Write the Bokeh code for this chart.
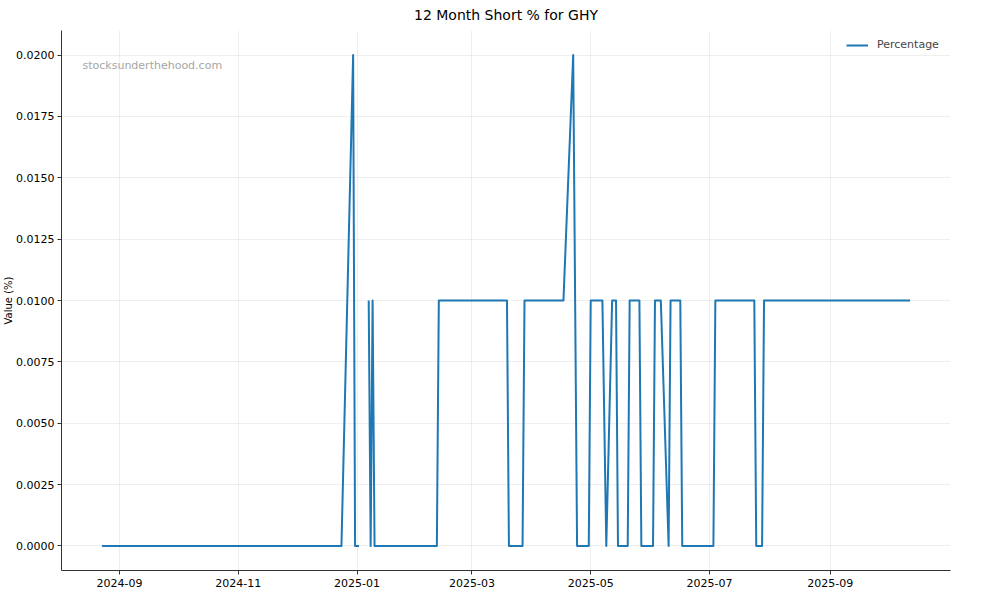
import math
import pandas as pd
from bokeh.plotting import figure
from bokeh.models import (ColumnDataSource, FixedTicker, DatetimeTickFormatter,
                          NumeralTickFormatter, Label, Legend, LegendItem, Title)
from bokeh.embed import file_html
from bokeh.resources import INLINE

NAN = float("nan")

# ---- data ----
dates = [
    "2024-08-23", "2024-12-24", "2024-12-30", "2024-12-31", "2025-01-02",
    "2025-01-04",
    "2025-01-07", "2025-01-08", "2025-01-09", "2025-01-10",
    "2025-02-11", "2025-02-12", "2025-03-19", "2025-03-20",
    "2025-03-27", "2025-03-28", "2025-04-17", "2025-04-22", "2025-04-24",
    "2025-04-30", "2025-05-01", "2025-05-07", "2025-05-09", "2025-05-12",
    "2025-05-14", "2025-05-15", "2025-05-20", "2025-05-21", "2025-05-26",
    "2025-05-27", "2025-06-02", "2025-06-03", "2025-06-06", "2025-06-10",
    "2025-06-11", "2025-06-16", "2025-06-17", "2025-07-03", "2025-07-04",
    "2025-07-24", "2025-07-25", "2025-07-28", "2025-07-29", "2025-10-12",
]
percentage = [
    0.0, 0.0, 0.02, 0.0, 0.0,
    NAN,
    0.01, 0.0, 0.01, 0.0,
    0.0, 0.01, 0.01, 0.0,
    0.0, 0.01, 0.01, 0.02, 0.0,
    0.0, 0.01, 0.01, 0.0, 0.01,
    0.01, 0.0, 0.0, 0.01, 0.01,
    0.0, 0.0, 0.01, 0.01, 0.0,
    0.01, 0.01, 0.0, 0.0, 0.01,
    0.01, 0.0, 0.0, 0.01, 0.01,
]
x_tick_dates = ["2024-09-01", "2024-11-01", "2025-01-01", "2025-03-01",
                "2025-05-01", "2025-07-01", "2025-09-01"]
y_ticks = [0.0, 0.0025, 0.005, 0.0075, 0.01, 0.0125, 0.015, 0.0175, 0.02]

title_text = "12 Month Short % for GHY"
y_label = "Value (%)"
series_name = "Percentage"
watermark = "stocksunderthehood.com"

FONT = "DejaVu Sans"

src = ColumnDataSource(dict(x=pd.to_datetime(dates), y=percentage))

p = figure(width=1000, height=600, x_axis_type="datetime",
           output_backend="svg", toolbar_location=None,
           min_border_left=60, min_border_right=50,
           min_border_top=30, min_border_bottom=30)

p.title.text = title_text
p.title.align = "center"
p.title.vertical_align = "top"
p.title.text_font = FONT
p.title.text_font_size = "14px"
p.title.text_font_style = "normal"
p.title.text_color = "#000000"
p.title.standoff = 12

r = p.line("x", "y", source=src, line_color="#1f77b4", line_width=2,
           line_join="round")

p.outline_line_color = None
p.background_fill_color = "white"
p.border_fill_color = "white"

x_ticks_ms = [pd.Timestamp(d).value // 10**6 for d in x_tick_dates]
p.xaxis.ticker = FixedTicker(ticks=x_ticks_ms)
p.xaxis.formatter = DatetimeTickFormatter(months="%Y-%m", days="%Y-%m",
                                          years="%Y-%m")
p.yaxis.ticker = FixedTicker(ticks=y_ticks)
p.yaxis.formatter = NumeralTickFormatter(format="0.0000")

for ax in (p.xaxis, p.yaxis):
    ax.axis_line_color = "#333333"
    ax.axis_line_width = 1
    ax.major_tick_line_color = "#333333"
    ax.major_tick_out = 4
    ax.major_tick_in = 0
    ax.minor_tick_line_color = None
    ax.major_label_text_font = FONT
    ax.major_label_text_font_size = "11px"
    ax.major_label_text_color = "#000000"
    ax.major_label_standoff = 4
p.yaxis.major_label_standoff = 3

for g in (p.xgrid, p.ygrid):
    g.grid_line_color = "#b0b0b0"
    g.grid_line_alpha = 0.2
    g.grid_line_width = 1

# y-axis title at the far left edge
ytitle = Title(text=y_label, align="center", text_font=FONT,
               text_font_size="10px", text_font_style="normal",
               text_color="#000000", standoff=0)
p.add_layout(ytitle, "left")

legend = Legend(items=[LegendItem(label=series_name, renderers=[r])],
                location="top_right")
legend.border_line_alpha = 0
legend.background_fill_alpha = 0
legend.label_text_font = FONT
legend.label_text_font_size = "11px"
legend.glyph_width = 22
legend.glyph_height = 6
legend.label_height = 6
legend.label_width = 65
legend.label_standoff = 9
legend.margin = 4
legend.padding = 4
p.add_layout(legend)

wm = Label(x=21, y=505, x_units="screen", y_units="screen", text=watermark,
           text_font=FONT, text_font_size="11px", text_color="#a6a6a6",
           text_baseline="middle", text_align="left")
p.add_layout(wm)

open("out.html", "w").write(file_html(p, INLINE))
